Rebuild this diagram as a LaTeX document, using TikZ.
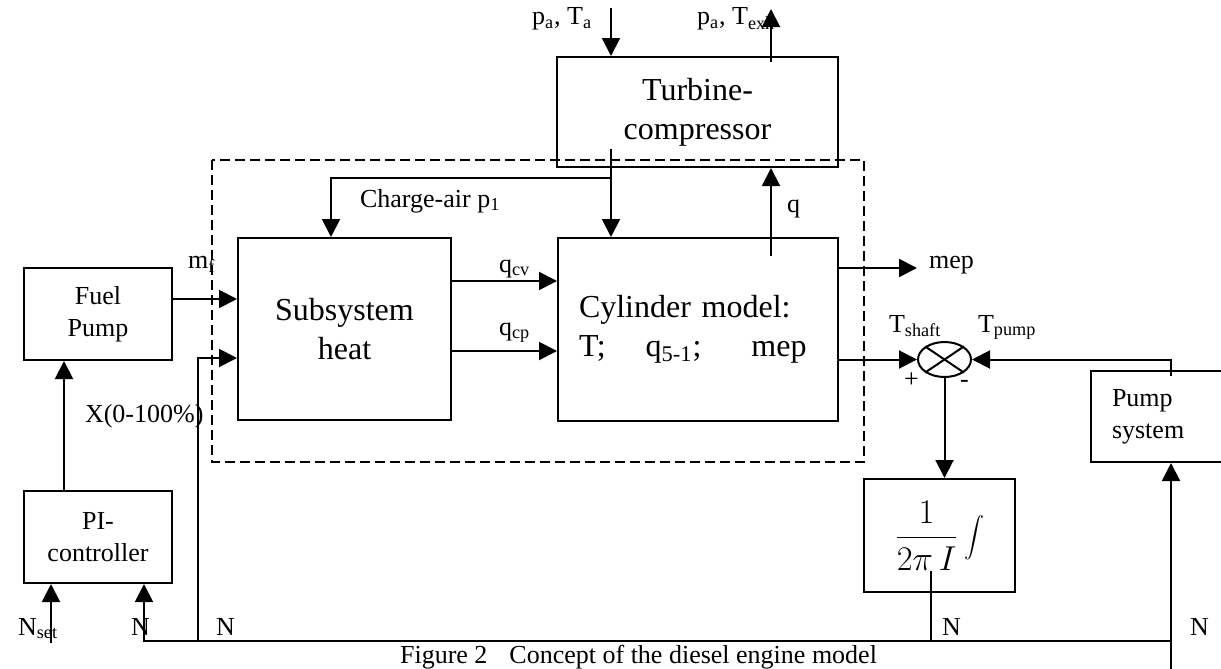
\documentclass[tikz,border=0pt]{standalone}
\usepackage{fontspec}
\setmainfont{Liberation Serif}
\usepackage{tikz}
\usetikzlibrary{arrows.meta, positioning, shapes.geometric, calc}

\begin{document}
\begin{tikzpicture}[
  x=0.5pt, y=-0.5pt,
  block/.style={rectangle, draw, line width=1pt, inner sep=0pt, align=center},
  big/.style={font=\fontsize{16}{19.5}\selectfont},
  lbl/.style={font=\fontsize{13}{16}\selectfont},
  sumnode/.style={ellipse, draw, line width=1pt, inner sep=0pt,
                  minimum width=26.5pt, minimum height=17.5pt},
  arr/.style={-{Triangle[length=9pt, width=9pt]}, line width=1pt},
  frame/.style={dashed, line width=0.9pt, dash pattern=on 5pt off 2.5pt},
]
\useasboundingbox (0,0) rectangle (1221,669);

%% Blocks
\node[block, lbl, minimum width=74pt, minimum height=46pt] (fuel) at (98,314) {Fuel\\Pump};
\node[block, lbl, minimum width=74pt, minimum height=46pt] (pi) at (98,537) {PI-\\controller};
\node[block, big, minimum width=106.5pt, minimum height=91pt] (heat) at (344.5,329) {Subsystem\\heat};
\node[block, big, minimum width=140pt, minimum height=91.5pt, text width=119pt, align=left]
      (cyl) at (698,329.5) {Cylinder model:\\T;\hspace{20pt}q\textsubscript{5-1};\hspace{25pt}mep};
\node[block, big, minimum width=140.5pt, minimum height=55pt] (turbo) at (697.5,112) {Turbine-\\compressor};
\node[block, minimum width=75.5pt, minimum height=56.5pt] (integ) at (939.5,535.5)
      {\fontsize{17}{20}\selectfont$\displaystyle\frac{1}{2\pi\, I}\int$};
\node[block, lbl, minimum width=75pt, minimum height=45.5pt, text width=54pt, align=left]
      (pumpsys) at (1166,416.5) {Pump\\system};

%% Summing point
\node[sumnode] (sum) at (944.5,359.5) {};
\draw[line width=1pt] (sum.north west) -- (sum.south east);
\draw[line width=1pt] (sum.north east) -- (sum.south west);

%% Engine boundary
\draw[frame] (212,160) rectangle (864,462);

%% Free ends
\coordinate (airin) at (611,8);
\coordinate (exh) at (771,9);
\coordinate (chg) at (611,178);
\coordinate (chgH) at (331,178);
\coordinate (mep) at (917,268);
\coordinate (nset) at (51,643);
\coordinate (busL) at (144,641);
\coordinate (tapL) at (198,641);
\coordinate (tapI) at (931,641);
\coordinate (busR) at (1171,641);
\coordinate (pumpin) at (1171,669);
\coordinate (fuelout) at ([yshift=7.5pt]fuel.east);
\coordinate (qcv) at ([yshift=24pt]heat.east);
\coordinate (qcp) at ([yshift=-11pt]heat.east);

%% Control loop
\draw[arr] ([xshift=-17pt]pi.north) -- ([xshift=-17pt]fuel.south);
\draw[arr] (nset) -- (nset |- pi.south);
\draw[arr] (busR) -- (busL) -- (busL |- pi.south);
\draw[arr] (tapL) |- ([yshift=-14.5pt]heat.west);
\draw[arr] (fuelout) -- (fuelout -| heat.west);

%% Heat -> cylinder
\draw[arr] (qcv) -- (qcv -| cyl.west);
\draw[arr] (qcp) -- (qcp -| cyl.west);

%% Turbocharger
\draw[arr] (airin) -- (airin |- turbo.north);
\draw[arr] ($(exh |- turbo.north)+(0,6)$) -- (exh);
\draw[arr] ($(airin |- turbo.south)+(0,-19)$) -- (airin |- cyl.north);
\draw[arr] (chg) -- (chgH) -- (chgH |- heat.north);
\draw[arr] ($(exh |- cyl.north)+(0,19)$) -- (exh |- turbo.south);

%% Shaft dynamics
\draw[arr] (cyl.east |- mep) -- (mep);
\draw[arr] (cyl.east |- sum.west) -- (sum.west);
\draw[arr] ($(busR |- pumpsys.north)+(0,6)$) |- (sum.east);
\draw[arr] (sum.south) -- (sum.south |- integ.north);
\draw[line width=1pt] ($(tapI |- integ.south)+(0,-22)$) -- (tapI);
\draw[arr] (pumpin) -- (pumpin |- pumpsys.south);

%% Labels
\node[lbl, anchor=base west] (mf) at (181,268) {m\textsubscript{f}};
\node[lbl, anchor=base west] (xpos) at (78,422) {X(0-100\%)};
\node[lbl, anchor=base west] (nsetl) at (11,635) {N\textsubscript{set}};
\node[lbl, anchor=base west] (n1) at (124,635) {N};
\node[lbl, anchor=base west] (n2) at (209,635) {N};
\node[lbl, anchor=base west] (n3) at (935,635) {N};
\node[lbl, anchor=base west] (n4) at (1183,635) {N};
\node[lbl, anchor=base west] (ambl) at (525,25) {p\textsubscript{a}, T\textsubscript{a}};
\node[lbl, anchor=base west] (exhl) at (690,25) {p\textsubscript{a}, T\textsubscript{exh}};
\node[lbl, anchor=base west] (ql) at (780,212) {q};
\node[lbl, anchor=base west] (chgl) at (353,207) {Charge-air p\textsubscript{1}};
\node[lbl, anchor=base west] (qcvl) at (492,272) {q\textsubscript{cv}};
\node[lbl, anchor=base west] (qcpl) at (492,335) {q\textsubscript{cp}};
\node[lbl, anchor=base west] (mepl) at (922,268) {mep};
\node[lbl, anchor=base west] (tshl) at (882,332) {T\textsubscript{shaft}};
\node[lbl, anchor=base west] (tpul) at (971,332) {T\textsubscript{pump}};
\node[lbl, anchor=base west] (plus) at (897,387) {+};
\node[lbl, anchor=base west] (minus) at (953,387) {-};

%% Caption
\node[lbl, anchor=base west] (title) at (393,663) {Figure 2\hspace{11pt}Concept of the diesel engine model};

\end{tikzpicture}
\end{document}
